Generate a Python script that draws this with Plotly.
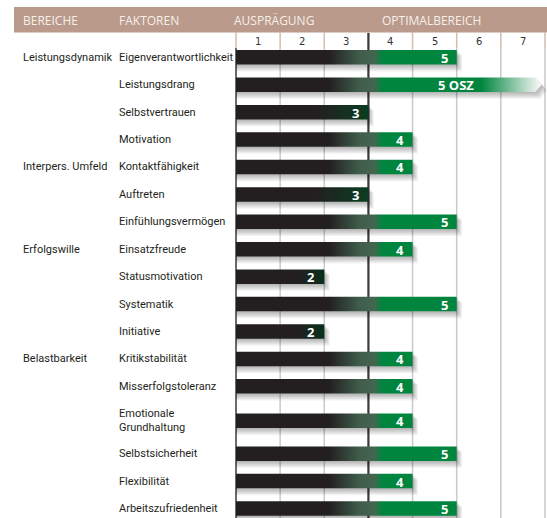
import plotly.graph_objects as go

# ---------------- data ----------------
faktoren = ["Eigenverantwortlichkeit", "Leistungsdrang", "Selbstvertrauen", "Motivation",
            "Kontaktfähigkeit", "Auftreten", "Einfühlungsvermögen",
            "Einsatzfreude", "Statusmotivation", "Systematik", "Initiative",
            "Kritikstabilität", "Misserfolgstoleranz", "Emotionale<br>Grundhaltung",
            "Selbstsicherheit", "Flexibilität", "Arbeitszufriedenheit"]
werte = [5, 5, 3, 4, 4, 3, 5, 4, 2, 5, 2, 4, 4, 4, 5, 4, 5]
zusatz = ["", " OSZ", "", "", "", "", "", "", "", "", "", "", "", "", "", "", ""]
bereiche = ["Leistungsdynamik", "Interpers. Umfeld", "Erfolgswille", "Belastbarkeit"]
bereich_start = ["Eigenverantwortlichkeit", "Kontaktfähigkeit", "Einsatzfreude", "Kritikstabilität"]
skala = [1, 2, 3, 4, 5, 6, 7]
kopf = ["BEREICHE", "FAKTOREN", "AUSPRÄGUNG", "OPTIMALBEREICH"]

# ---------------- style / layout ----------------
W, H = 547, 518
X0_PX, UNIT = 236.0, 44.14          # pixel of value 0, pixels per unit
def px(p):                           # pixel x -> axis value (for layout decorations)
    return (p - X0_PX) / UNIT

DARK = "#231F20"
GREEN = "#00853E"
HEAD_BG = "#B99A8B"
HEAD_TX = "#F7EFEA"
TXT = "#231F20"
BAR_H = 14.5

# row centres (pixel rows), extra room for two-line labels
row_y = []
y = 57.3
for f in faktoren:
    if "<br>" in f:
        y += 7
    row_y.append(y)
    y += 27.42 + (5.5 if "<br>" in f else 0)

def scale_for(v, osz):
    if osz:
        return [[0, DARK], [2.1 / 7, DARK], [2.8 / 7, "#3f5d4b"], [3.12 / 7, "#46654f"],
                [3.32 / 7, GREEN], [5.55 / 7, GREEN], [6.85 / 7, "#f0f4f1"], [1, "#f4f6f4"]]
    if v >= 4:
        return [[0, DARK], [2.1 / 7, DARK], [2.8 / 7, "#3f5d4b"], [3.12 / 7, "#46654f"],
                [3.32 / 7, GREEN], [1, GREEN]]
    if v == 3:
        return [[0, DARK], [1.8 / 7, DARK], [3 / 7, "#0b3d21"], [1, "#0b3d21"]]
    return [[0, DARK], [1.4 / 7, DARK], [2 / 7, "#08301a"], [1, "#08301a"]]

def bar_poly(v, yc, osz, dx=0.0, dy0=0.0, dy1=0.0):
    top, bot = yc - BAR_H / 2 + dy0, yc + BAR_H / 2 + dy1
    if osz:
        end, tip = 6.78 + dx, 6.93 + dx
        return [0, end, tip, end, 0, 0], [top, top, yc + (dy0 + dy1) / 2, bot, bot, top]
    return [0, v + dx, v + dx, 0, 0], [top, top, bot, bot, top]

fig = go.Figure()

# shadows (stacked soft layers)
for k in range(1, 7):
    xs, ys = [], []
    for v, yc, z in zip(werte, row_y, zusatz):
        px_, py_ = bar_poly(v, yc, bool(z), dx=k * 0.9 / UNIT, dy0=k * 0.9, dy1=k * 1.15)
        xs += px_ + [None]
        ys += py_ + [None]
    fig.add_trace(go.Scatter(x=xs, y=ys, mode="lines", line=dict(width=0),
                             fill="toself", fillcolor="rgba(0,0,0,0.05)",
                             hoverinfo="skip", showlegend=False))

# bars
for v, yc, z in zip(werte, row_y, zusatz):
    xs, ys = bar_poly(v, yc, bool(z))
    fig.add_trace(go.Scatter(
        x=xs, y=ys, mode="lines", line=dict(width=0), fill="toself",
        fillgradient=dict(type="horizontal", colorscale=scale_for(v, bool(z)), start=0, stop=7),
        hoverinfo="skip", showlegend=False))

shapes = []
# header band
shapes.append(dict(type="rect", xref="x", yref="y", x0=px(14), x1=px(W + 2), y0=7, y1=32.5,
                   fillcolor=HEAD_BG, line=dict(width=0), layer="below"))
# column separators in the scale row
for s in [0] + skala:
    shapes.append(dict(type="line", xref="x", yref="y", x0=s, x1=s, y0=32, y1=48,
                       line=dict(color="#D3BCB0", width=1.5), layer="below"))
# grid lines
for s in skala:
    if s == 3:
        continue
    shapes.append(dict(type="line", xref="x", yref="y", x0=s, x1=s, y0=48, y1=H,
                       line=dict(color="#C9C9C9", width=1.5), layer="below"))
shapes.append(dict(type="line", xref="x", yref="y", x0=0, x1=0, y0=48, y1=H,
                   line=dict(color="#3A3A3A", width=1.5), layer="below"))
shapes.append(dict(type="line", xref="x", yref="y", x0=3, x1=3, y0=33, y1=H,
                   line=dict(color="#3A3A3A", width=2.2), layer="below"))

ann = []
head_x = [21, 117, 232, 380]
for t, hx in zip(kopf, head_x):
    ann.append(dict(x=px(hx), y=20, xref="x", yref="y", text=t, showarrow=False,
                    xanchor="left", yanchor="middle",
                    font=dict(family="Open Sans", size=12, color=HEAD_TX)))
for s in skala:
    ann.append(dict(x=s - 0.5, y=41, xref="x", yref="y", text=str(s), showarrow=False,
                    xanchor="center", yanchor="middle",
                    font=dict(family="DejaVu Sans", size=10, color="#333333")))
for f, yc in zip(faktoren, row_y):
    ann.append(dict(x=px(117), y=yc, xref="x", yref="y", text=f, showarrow=False,
                    xanchor="left", yanchor="middle", align="left",
                    font=dict(family="Roboto", size=11, color=TXT)))
for b, bs in zip(bereiche, bereich_start):
    ann.append(dict(x=px(21), y=row_y[faktoren.index(bs)], xref="x", yref="y", text=b,
                    showarrow=False, xanchor="left", yanchor="middle",
                    font=dict(family="Roboto", size=11, color=TXT)))
for v, yc, z in zip(werte, row_y, zusatz):
    xr = v - 7 / UNIT + (26 / UNIT if z else 0)
    ann.append(dict(x=xr, y=yc + 0.5, xref="x", yref="y", text=f"{v}{z}", showarrow=False,
                    xanchor="right", yanchor="middle",
                    font=dict(family="Open Sans", size=13, color="white", weight="bold")))

fig.update_layout(
    width=W, height=H, margin=dict(l=0, r=0, t=0, b=0),
    paper_bgcolor="white", plot_bgcolor="white",
    xaxis=dict(range=[px(0), px(W)], visible=False, fixedrange=True),
    yaxis=dict(range=[H, 0], visible=False, fixedrange=True),
    shapes=shapes, annotations=ann, showlegend=False,
)
fig.write_html("out.html", config={"displayModeBar": False},
               post_script="document.body.style.margin='0';document.body.style.overflow='hidden';")
